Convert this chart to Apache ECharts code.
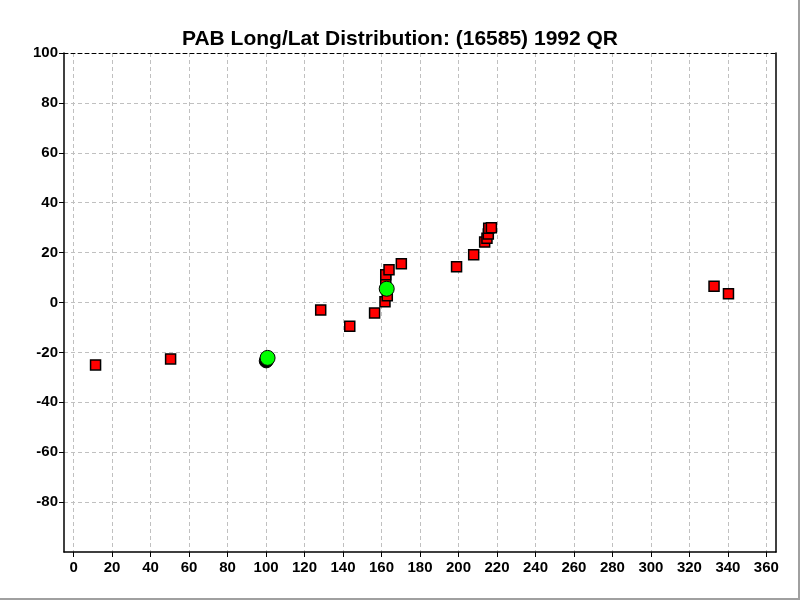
<!DOCTYPE html>
<html><head><meta charset="utf-8">
<script src="https://cdn.jsdelivr.net/npm/echarts@6/dist/echarts.min.js"></script>
<style>html,body{margin:0;padding:0;background:#fff}#c{width:800px;height:600px}</style>
</head><body><div id="c"></div>
<script>
const title = 'PAB Long/Lat Distribution: (16585) 1992 QR';
const xTicks = [0,20,40,60,80,100,120,140,160,180,200,220,240,260,280,300,320,340,360];
const yTicks = [-80,-60,-40,-20,0,20,40,60,80,100];
// red squares: [longitude, latitude]
const squareLon = [11.4, 50.4, 128.4, 143.5, 156.4, 161.8, 163.0, 162.2, 162.2, 163.9, 170.3, 199.0, 207.9, 213.6, 214.8, 215.5, 215.7, 217.1, 332.8, 340.3];
const squareLat = [-25.0, -22.6, -3.0, -9.5, -4.2, 0.3, 2.7, 9.1, 11.1, 13.1, 15.5, 14.3, 19.1, 24.2, 25.8, 27.5, 29.8, 30.0, 6.5, 3.5];
// dark circle
const darkLon = [100.1];
const darkLat = [-23.4];
// green circles
const greenLon = [100.8, 162.7];
const greenLat = [-22.2, 5.5];

const zip = (a,b) => a.map((v,i)=>[v,b[i]]);
const chart = echarts.init(document.getElementById('c'), null, {renderer:'canvas'});
const font = '"Liberation Sans", Arial, sans-serif';
chart.setOption({
  animation:false,
  backgroundColor:'#fff',
  title:{text:title,left:'center',top:24,textStyle:{fontFamily:font,fontSize:21,fontWeight:'bold',color:'#000'}},
  grid:{left:64,right:24,top:53,bottom:48},
  xAxis:[{type:'value',min:-5,max:365,interval:20,position:'bottom',
    axisLine:{show:true,onZero:false,lineStyle:{color:'#000',width:1.5}},
    axisTick:{show:true,length:5,lineStyle:{color:'#000'},customValues:xTicks},
    axisLabel:{fontFamily:font,fontSize:15,fontWeight:'bold',color:'#000',margin:8,customValues:xTicks},
    splitLine:{show:true,lineStyle:{color:'#c0c0c0',type:[4,3]},customValues:xTicks}},
   {type:'value',min:-5,max:365,position:'top',
    axisLine:{show:true,onZero:false,lineStyle:{color:'#000',width:1,type:[4,3]}},
    axisTick:{show:false},axisLabel:{show:false},splitLine:{show:false}}],
  yAxis:[{type:'value',min:-100,max:100,interval:20,position:'left',
    axisLine:{show:true,onZero:false,lineStyle:{color:'#000',width:1.5}},
    axisTick:{show:true,length:5,lineStyle:{color:'#000'},customValues:yTicks},
    axisLabel:{fontFamily:font,fontSize:15,fontWeight:'bold',color:'#000',margin:6,customValues:yTicks},
    splitLine:{show:true,lineStyle:{color:'#c0c0c0',type:[4,3]}}},
   {type:'value',min:-100,max:100,position:'right',
    axisLine:{show:true,onZero:false,lineStyle:{color:'#000',width:1.5}},
    axisTick:{show:false},axisLabel:{show:false},splitLine:{show:false}}],
  graphic:[
    {type:'line',shape:{x1:799,y1:0,x2:799,y2:600},style:{stroke:'#a0a0a0',lineWidth:2},silent:true,z:100},
    {type:'line',shape:{x1:0,y1:599,x2:800,y2:599},style:{stroke:'#a0a0a0',lineWidth:2},silent:true,z:100}
  ],
  series:[
    {type:'scatter',symbol:'rect',symbolSize:10,data:zip(squareLon,squareLat),
     itemStyle:{color:'#ff0000',borderColor:'#000',borderWidth:1.5,opacity:1},z:2},
    {type:'scatter',symbol:'circle',symbolSize:14,data:zip(darkLon,darkLat),
     itemStyle:{color:'#000',borderColor:'#000',borderWidth:1,opacity:1},z:3},
    {type:'scatter',symbol:'circle',symbolSize:15,data:zip(greenLon,greenLat),
     itemStyle:{color:'#00ff00',borderColor:'#000',borderWidth:1,opacity:1},z:4}
  ]
});
</script></body></html>
